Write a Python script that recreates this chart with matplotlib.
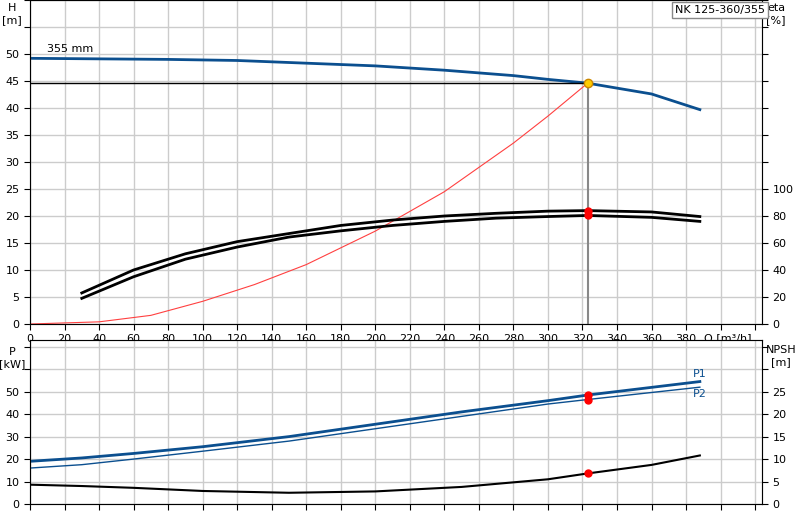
import matplotlib
matplotlib.use("Agg")
import matplotlib.pyplot as plt

q_h = [0, 40, 80, 120, 160, 200, 240, 280, 300, 323, 360, 388]
h = [49.2, 49.1, 49.0, 48.8, 48.3, 47.8, 47.0, 46.0, 45.3, 44.6, 42.6, 39.7]
q_sys = [0, 40, 70, 100, 130, 160, 200, 240, 260, 280, 300, 323]
h_sys = [0, 0.4, 1.6, 4.2, 7.3, 11.0, 17.2, 24.5, 29.0, 33.5, 38.5, 44.6]
q_eta = [30, 60, 90, 120, 150, 180, 210, 240, 270, 300, 323, 360, 388]
eta1 = [23, 40, 52, 61, 67, 73, 77, 80, 82, 83.6, 84, 83, 79.6]
eta2 = [19, 35, 48, 57, 64.4, 69, 73, 76, 78.4, 79.6, 80.4, 79, 76]
q_p = [0, 30, 60, 100, 150, 200, 250, 300, 323, 388]
p1 = [19, 20.5, 22.5, 25.5, 30, 35.5, 41, 46, 48.5, 54.5]
p2 = [16, 17.5, 20, 23.5, 28, 33.5, 39, 44.5, 46.5, 52]
q_n = [0, 30, 60, 100, 150, 200, 250, 300, 323, 360, 388]
npsh = [4.3, 4.0, 3.6, 2.9, 2.5, 2.8, 3.8, 5.5, 6.8, 8.7, 10.8]
q_duty, h_duty = 323, 44.6
eta_duty = [84, 80.4]
p_duty = [48.5, 46.5]
npsh_duty = 6.8

blue = "#0b4f8f"
fig = plt.figure(figsize=(8, 5.2), dpi=100)
ax = fig.add_axes([30/800, 1-324/520, 732/800, 324/520])
ax2 = ax.twinx()
bx = fig.add_axes([30/800, 1-504/520, 732/800, 164/520])
bx2 = bx.twinx()
XMAX = 424
for a in (ax, bx):
    a.set_xlim(0, XMAX)
    a.set_xticks(range(0, 421, 20))
    a.grid(True, color="#cccccc", lw=1)
    a.set_axisbelow(True)
    for s in a.spines.values():
        s.set_color("#888888")
ax.set_ylim(0, 60)
ax.set_yticks(range(0, 61, 5))
ax.set_yticklabels([str(v) if v <= 50 else "" for v in range(0, 61, 5)])
ax.set_xticklabels([str(v) if v < 400 else "" for v in range(0, 421, 20)])
ax2.set_ylim(0, 60 * 4)
ax2.set_yticks(range(0, 241, 20))
ax2.set_yticklabels([str(v) if v <= 100 else "" for v in range(0, 241, 20)])
bx.set_ylim(0, 73)
bx.set_yticks(range(0, 71, 10))
bx.set_yticklabels([str(v) if v <= 50 else "" for v in range(0, 71, 10)])
bx.set_xticklabels([])
bx2.set_ylim(0, 36.5)
bx2.set_yticks(range(0, 36, 5))
bx2.set_yticklabels([str(v) if v <= 25 else "" for v in range(0, 36, 5)])
for a in (ax, ax2, bx, bx2):
    a.tick_params(labelsize=8, length=4)
for a in (ax2, bx2):
    a.spines["right"].set_color("black")

ax.plot(q_h, h, color=blue, lw=2)
ax.plot(q_sys, h_sys, color="#ff4040", lw=0.8)
ax.plot([0, q_duty], [h_duty, h_duty], color="black", lw=1)
ax.plot([q_duty, q_duty], [0, h_duty], color="#888888", lw=1.5)
ax2.plot(q_eta, eta1, color="black", lw=2)
ax2.plot(q_eta, eta2, color="black", lw=2)
ax2.plot([q_duty]*2, eta_duty, "o", color="red", ms=5)
ax2.plot([q_duty], [h_duty*4], "o", color="#ffcc00", mec="#cc8800", ms=6)
ax.text(10, 50.3, "355 mm", fontsize=8)
ax.text(404, -1.6, "Q [m³/h]", fontsize=8, ha="center", va="top")
fig.text(12/800, 1-3/520, "H\n[m]", fontsize=8, ha="center", va="top")
fig.text(776/800, 1-3/520, "eta\n[%]", fontsize=8, ha="center", va="top")
fig.text(720/800, 1-10/520, "NK 125-360/355", fontsize=8, ha="center", va="center",
         bbox=dict(boxstyle="square,pad=0.3", fc="white", ec="#888888"))

bx.plot(q_p, p1, color=blue, lw=2)
bx.plot(q_p, p2, color=blue, lw=1)
bx.plot([q_duty]*2, p_duty, "o", color="red", ms=5)
bx2.plot(q_n, npsh, color="black", lw=1.5)
bx2.plot([q_duty], [npsh_duty], "o", color="red", ms=5)
bx.text(392, 55.5, "P1", fontsize=8, color=blue, ha="right", va="bottom")
bx.text(392, 51, "P2", fontsize=8, color=blue, ha="right", va="top")
fig.text(12/800, 1-347/520, "P\n[kW]", fontsize=8, ha="center", va="top")
fig.text(781/800, 1-345/520, "NPSH\n[m]", fontsize=8, ha="center", va="top")
fig.savefig("out.png")
